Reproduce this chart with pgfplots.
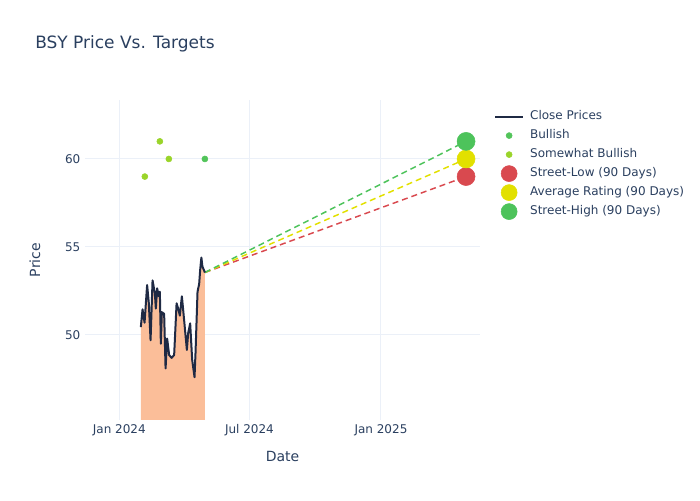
\documentclass[border=0pt]{standalone}
\usepackage{fontspec}
\setmainfont{DejaVu Sans}
\usepackage{pgfplots}
\pgfplotsset{compat=1.18}
\definecolor{txt}{HTML}{2A3F5F}
\definecolor{gridc}{HTML}{EBF0F8}
\definecolor{closec}{HTML}{1F2A44}
\definecolor{areac}{HTML}{FBBE99}
\definecolor{bull}{HTML}{52C45A}
\definecolor{sbull}{HTML}{9AD42A}
\definecolor{lowc}{HTML}{D9494F}
\definecolor{avgc}{HTML}{E2E000}
\definecolor{highc}{HTML}{4DC35B}
\pgfplotsset{
 linelegend/.style={legend image code/.code={\path[draw=none,fill=none] (0pt,-3pt) rectangle (21pt,3pt); \draw[##1] (0pt,0pt) -- (21pt,0pt);}},
 smalllegend/.style={legend image code/.code={\path[draw=none,fill=none] (0pt,-3pt) rectangle (21pt,3pt); \draw[overlay,##1] plot coordinates {(10.5pt,0pt)};}},
 biglegend/.style={legend image code/.code={\path[draw=none,fill=none] (0pt,-3pt) rectangle (21pt,3pt); \draw[overlay,##1,mark size=6pt] plot coordinates {(10.5pt,0pt)};}},
}
\pgfplotstableread{
d p
30.1 50.45
32.5 51.46
35.3 50.7
38.9 52.84
41.3 51.8
43.7 49.7
46.5 53.1
49.7 52.37
51.1 51.5
52.9 52.65
55.3 52.2
56.7 52.46
58.1 49.5
59.5 51.3
62.7 51.2
64.7 48.1
66.9 49.8
69.7 48.86
73.1 48.7
76.7 48.86
80.1 51.8
82.3 51.5
84.7 51.1
87.5 52.2
90.3 51.0
94.5 49.15
96.3 50.1
99.1 50.66
101.9 48.6
105.2 47.6
106.6 49.0
109.4 52.46
111.7 52.9
113.1 53.7
114.8 54.4
116.2 53.9
119.7 53.55
}\closedata
\begin{document}
\begin{tikzpicture}
\begin{axis}[
 at={(63.75pt,60pt)}, anchor=south west,
 scale only axis, width=296.25pt, height=240pt,
 xmin=-48, xmax=504.5, ymin=45.17, ymax=63.35,
 axis line style={draw=none}, tick style={draw=none},
 grid=major, grid style={gridc, line width=0.75pt},
 xtick={0,182,366}, xticklabels={Jan 2024, Jul 2024, Jan 2025},
 ytick={50,55,60},
 ticklabel style={font=\fontsize{9}{11}\selectfont, text=txt},
 /pgf/number format/assume math mode=true,
 xlabel={Date}, ylabel={Price},
 label style={font=\fontsize{10.5}{12}\selectfont, text=txt},
 xlabel style={at={(axis description cs:0.5,-0.1125)}, anchor=center},
 ylabel style={at={(axis description cs:-0.1266,0.5)}, anchor=center},
 legend cell align=left,
 legend style={at={(1.025,0.975)}, anchor=north west, draw=none, fill=none,
   font=\fontsize{9}{11}\selectfont, text=txt,
   nodes={inner sep=0pt, text height=6.5pt, text depth=2pt},
   row sep=5.75pt, column sep=4.5pt},
]
\addplot[fill=areac, draw=none, forget plot] table[x=d,y=p]{\closedata} \closedcycle;
\addplot[lowc, line width=1.1pt, dash pattern=on 4.5pt off 3pt, forget plot] coordinates {(119.7,53.55) (485,59)};
\addplot[avgc, line width=1.1pt, dash pattern=on 4.5pt off 3pt, forget plot] coordinates {(119.7,53.55) (485,60)};
\addplot[highc, line width=1.1pt, dash pattern=on 4.5pt off 3pt, forget plot] coordinates {(119.7,53.55) (485,61)};
\addplot[closec, line width=1.5pt, line join=round, linelegend] table[x=d,y=p]{\closedata};
\addlegendentry{Close Prices}
\addplot[only marks, mark=*, mark size=2.25pt, bull, mark options={draw=none, fill=bull}, smalllegend]
  coordinates {(119.7,60)};
\addlegendentry{Bullish}
\addplot[only marks, mark=*, mark size=2.25pt, sbull, mark options={draw=none, fill=sbull}, smalllegend]
  coordinates {(35.7,59) (56.7,61) (69.3,60)};
\addlegendentry{Somewhat Bullish}
\addplot[only marks, mark=*, mark size=6.75pt, lowc, mark options={draw=none, fill=lowc}, biglegend]
  coordinates {(485,59)};
\addlegendentry{Street-Low (90 Days)}
\addplot[only marks, mark=*, mark size=6.75pt, avgc, mark options={draw=none, fill=avgc}, biglegend]
  coordinates {(485,60)};
\addlegendentry{Average Rating (90 Days)}
\addplot[only marks, mark=*, mark size=6.75pt, highc, mark options={draw=none, fill=highc}, biglegend]
  coordinates {(485,61)};
\addlegendentry{Street-High (90 Days)}
\end{axis}
\node[anchor=west, text=txt, font=\fontsize{12.75}{15}\selectfont, inner sep=0pt] at (26.25pt,342pt) {BSY Price Vs. Targets};
\pgfresetboundingbox
\useasboundingbox (0,0) rectangle (525pt,375pt);
\end{tikzpicture}
\end{document}
